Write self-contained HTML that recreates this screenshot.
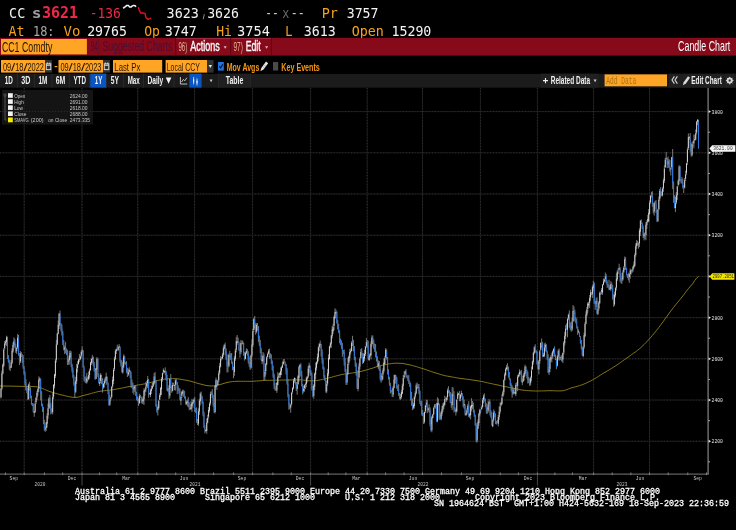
<!DOCTYPE html>
<html lang="en"><head><meta charset="utf-8"><title>CC1 Comdty - Candle Chart</title>
<style>html,body{margin:0;padding:0;background:#000;overflow:hidden}body{width:736px;height:530px}svg text{white-space:pre}</style></head>
<body>
<svg width="736" height="530" viewBox="0 0 736 530" style="display:block">
<rect x="0.00" y="0.00" width="736.00" height="530.00" fill="#000" />
<text x="9.11" y="17.60" font-family='"DejaVu Sans Mono","Liberation Mono",monospace' font-size="14.2" fill="#f4f4f4" textLength="16.18" lengthAdjust="spacingAndGlyphs" >CC</text>
<text x="31.73" y="17.60" font-family='"DejaVu Sans Mono","Liberation Mono",monospace' font-size="14.2" fill="#9c9c9c" font-weight="bold" textLength="9.74" lengthAdjust="spacingAndGlyphs" >s</text>
<text x="42.01" y="17.80" font-family='"DejaVu Sans Mono","Liberation Mono",monospace' font-size="15.6" fill="#f2264b" font-weight="bold" textLength="35.98" lengthAdjust="spacingAndGlyphs" >3621</text>
<text x="89.64" y="17.60" font-family='"DejaVu Sans Mono","Liberation Mono",monospace' font-size="14.2" fill="#ee2a40" textLength="31.22" lengthAdjust="spacingAndGlyphs" >-136</text>
<polyline points="123.2,8.4 124.2,7.4 125.5,6.6 126.8,5.4 128.4,5.6 129.6,6.9 131,7.1 132,6.1 133.6,5.4 135.2,5.8 136,6.7" fill="none" stroke="#f4f4f4" stroke-width="1.5" stroke-linejoin="round"/>
<polyline points="138.5,7.2 139,10 140,11.4 140.6,13 143,13 145,13.4 145.5,16 146,17.5 147,18.4 148,19.4 149,18.8 151,18.2" fill="none" stroke="#e6121c" stroke-width="1.4" stroke-linejoin="round"/>
<text x="166.61" y="17.60" font-family='"DejaVu Sans Mono","Liberation Mono",monospace' font-size="14.2" fill="#f4f4f4" textLength="32.28" lengthAdjust="spacingAndGlyphs" >3623</text>
<path d="M204.3 14.2 L203.2 19.2" stroke="#8a8a8a" stroke-width="1" fill="none"/>
<text x="207.13" y="17.60" font-family='"DejaVu Sans Mono","Liberation Mono",monospace' font-size="14.2" fill="#f4f4f4" textLength="31.75" lengthAdjust="spacingAndGlyphs" >3626</text>
<text x="265.26" y="17.60" font-family='"DejaVu Sans Mono","Liberation Mono",monospace' font-size="14.2" fill="#c8c8c8" textLength="13.48" lengthAdjust="spacingAndGlyphs" >--</text>
<text x="282.22" y="17.60" font-family='"DejaVu Sans Mono","Liberation Mono",monospace' font-size="14.2" fill="#6a6a6a" textLength="7.05" lengthAdjust="spacingAndGlyphs" >x</text>
<text x="290.83" y="17.60" font-family='"DejaVu Sans Mono","Liberation Mono",monospace' font-size="14.2" fill="#c8c8c8" textLength="13.93" lengthAdjust="spacingAndGlyphs" >--</text>
<text x="321.71" y="17.60" font-family='"DejaVu Sans Mono","Liberation Mono",monospace' font-size="14.2" fill="#f7a21c" textLength="16.18" lengthAdjust="spacingAndGlyphs" >Pr</text>
<text x="346.73" y="17.60" font-family='"DejaVu Sans Mono","Liberation Mono",monospace' font-size="14.2" fill="#f4f4f4" textLength="31.75" lengthAdjust="spacingAndGlyphs" >3757</text>
<text x="8.51" y="35.70" font-family='"DejaVu Sans Mono","Liberation Mono",monospace' font-size="14.2" fill="#f7a21c" textLength="16.12" lengthAdjust="spacingAndGlyphs" >At</text>
<text x="32.96" y="35.70" font-family='"DejaVu Sans Mono","Liberation Mono",monospace' font-size="14.2" fill="#a8a8a8" textLength="21.58" lengthAdjust="spacingAndGlyphs" >18:</text>
<text x="63.47" y="35.70" font-family='"DejaVu Sans Mono","Liberation Mono",monospace' font-size="14.2" fill="#f7a21c" textLength="16.85" lengthAdjust="spacingAndGlyphs" >Vo</text>
<text x="87.13" y="35.70" font-family='"DejaVu Sans Mono","Liberation Mono",monospace' font-size="14.2" fill="#f4f4f4" textLength="39.75" lengthAdjust="spacingAndGlyphs" >29765</text>
<text x="144.13" y="35.70" font-family='"DejaVu Sans Mono","Liberation Mono",monospace' font-size="14.2" fill="#f7a21c" textLength="15.73" lengthAdjust="spacingAndGlyphs" >Op</text>
<text x="164.72" y="35.70" font-family='"DejaVu Sans Mono","Liberation Mono",monospace' font-size="14.2" fill="#f4f4f4" textLength="32.17" lengthAdjust="spacingAndGlyphs" >3747</text>
<text x="216.13" y="35.70" font-family='"DejaVu Sans Mono","Liberation Mono",monospace' font-size="14.2" fill="#f7a21c" textLength="15.73" lengthAdjust="spacingAndGlyphs" >Hi</text>
<text x="237.10" y="35.70" font-family='"DejaVu Sans Mono","Liberation Mono",monospace' font-size="14.2" fill="#f4f4f4" textLength="32.80" lengthAdjust="spacingAndGlyphs" >3754</text>
<text x="285.21" y="35.70" font-family='"DejaVu Sans Mono","Liberation Mono",monospace' font-size="14.2" fill="#f7a21c" textLength="7.18" lengthAdjust="spacingAndGlyphs" >L</text>
<text x="303.87" y="35.70" font-family='"DejaVu Sans Mono","Liberation Mono",monospace' font-size="14.2" fill="#f4f4f4" textLength="32.01" lengthAdjust="spacingAndGlyphs" >3613</text>
<text x="351.72" y="35.70" font-family='"DejaVu Sans Mono","Liberation Mono",monospace' font-size="14.2" fill="#f7a21c" textLength="32.17" lengthAdjust="spacingAndGlyphs" >Open</text>
<text x="391.42" y="35.70" font-family='"DejaVu Sans Mono","Liberation Mono",monospace' font-size="14.2" fill="#f4f4f4" textLength="39.96" lengthAdjust="spacingAndGlyphs" >15290</text>
<rect x="0.00" y="37.80" width="736.00" height="17.80" fill="#870a1b" />
<rect x="1.00" y="39.00" width="85.90" height="15.40" fill="#ffa526" />
<text x="1.90" y="51.80" font-family='"Liberation Sans","DejaVu Sans",sans-serif' font-size="15" fill="#241400" textLength="50.40" lengthAdjust="spacingAndGlyphs" >CC1 Comdty</text>
<text x="91.10" y="51.40" font-family='"Liberation Sans","DejaVu Sans",sans-serif' font-size="14" fill="#4a0e34" textLength="8.80" lengthAdjust="spacingAndGlyphs" >94)</text>
<text x="102.50" y="51.40" font-family='"Liberation Sans","DejaVu Sans",sans-serif' font-size="14" fill="#4a0e34" textLength="69.80" lengthAdjust="spacingAndGlyphs" >Suggested Charts</text>
<rect x="175.10" y="38.20" width="1.00" height="17.00" fill="#5c0612" />
<rect x="230.10" y="38.20" width="1.00" height="17.00" fill="#5c0612" />
<rect x="270.90" y="38.20" width="1.00" height="17.00" fill="#5c0612" />
<text x="178.45" y="50.80" font-family='"Liberation Sans","DejaVu Sans",sans-serif' font-size="13.5" fill="#e0b090" textLength="8.85" lengthAdjust="spacingAndGlyphs" >96)</text>
<rect x="176.20" y="38.20" width="54.00" height="0.90" fill="#a23445" />
<rect x="231.20" y="38.20" width="39.80" height="0.90" fill="#a23445" />
<text x="190.30" y="50.80" font-family='"Liberation Sans","DejaVu Sans",sans-serif' font-size="14.6" fill="#ffffff" textLength="29.40" lengthAdjust="spacingAndGlyphs" stroke="#ffffff" stroke-width="0.35">Actions</text>
<path d="M223.6 46.2 h3.2 l-1.6 2.6 z" fill="#e0b0b8"/>
<text x="233.45" y="50.80" font-family='"Liberation Sans","DejaVu Sans",sans-serif' font-size="13.5" fill="#e0b090" textLength="9.35" lengthAdjust="spacingAndGlyphs" >97)</text>
<text x="245.70" y="50.80" font-family='"Liberation Sans","DejaVu Sans",sans-serif' font-size="14.6" fill="#ffffff" textLength="15.00" lengthAdjust="spacingAndGlyphs" stroke="#ffffff" stroke-width="0.35">Edit</text>
<path d="M265 46.2 h3.2 l-1.6 2.6 z" fill="#e0b0b8"/>
<text x="678.10" y="50.70" font-family='"Liberation Sans","DejaVu Sans",sans-serif' font-size="14.4" fill="#ffffff" textLength="52.20" lengthAdjust="spacingAndGlyphs" >Candle Chart</text>
<rect x="1.00" y="60.00" width="44.00" height="12.60" fill="#ffa526" />
<text x="2.90" y="70.70" font-family='"Liberation Sans","DejaVu Sans",sans-serif' font-size="11.8" fill="#241400" textLength="8.30" lengthAdjust="spacingAndGlyphs" >09</text>
<text x="11.10" y="70.70" font-family='"Liberation Sans","DejaVu Sans",sans-serif' font-size="11.8" fill="#241400" textLength="4.20" lengthAdjust="spacingAndGlyphs" >/</text>
<text x="15.20" y="70.70" font-family='"Liberation Sans","DejaVu Sans",sans-serif' font-size="11.8" fill="#241400" textLength="8.30" lengthAdjust="spacingAndGlyphs" >18</text>
<text x="23.40" y="70.70" font-family='"Liberation Sans","DejaVu Sans",sans-serif' font-size="11.8" fill="#241400" textLength="4.20" lengthAdjust="spacingAndGlyphs" >/</text>
<text x="27.50" y="70.70" font-family='"Liberation Sans","DejaVu Sans",sans-serif' font-size="11.8" fill="#241400" textLength="16.50" lengthAdjust="spacingAndGlyphs" >2022</text>
<rect x="45.00" y="60.00" width="7.00" height="12.60" fill="#303030" />
<rect x="46.3" y="63.8" width="4.5" height="5.8" fill="none" stroke="#d4d4d4" stroke-width="1"/>
<path d="M46.3 65.2 h4.5" stroke="#d4d4d4" stroke-width="1.2"/><path d="M47.3 62.4 v1.6 M49.8 62.4 v1.6" stroke="#d4d4d4" stroke-width="0.9"/>
<rect x="54.60" y="66.00" width="2.80" height="1.20" fill="#f7a21c" />
<rect x="58.50" y="60.00" width="44.50" height="12.60" fill="#ffa526" />
<text x="60.40" y="70.70" font-family='"Liberation Sans","DejaVu Sans",sans-serif' font-size="11.8" fill="#241400" textLength="8.30" lengthAdjust="spacingAndGlyphs" >09</text>
<text x="68.60" y="70.70" font-family='"Liberation Sans","DejaVu Sans",sans-serif' font-size="11.8" fill="#241400" textLength="4.20" lengthAdjust="spacingAndGlyphs" >/</text>
<text x="72.70" y="70.70" font-family='"Liberation Sans","DejaVu Sans",sans-serif' font-size="11.8" fill="#241400" textLength="8.30" lengthAdjust="spacingAndGlyphs" >18</text>
<text x="80.90" y="70.70" font-family='"Liberation Sans","DejaVu Sans",sans-serif' font-size="11.8" fill="#241400" textLength="4.20" lengthAdjust="spacingAndGlyphs" >/</text>
<text x="85.00" y="70.70" font-family='"Liberation Sans","DejaVu Sans",sans-serif' font-size="11.8" fill="#241400" textLength="16.50" lengthAdjust="spacingAndGlyphs" >2023</text>
<rect x="103.00" y="60.00" width="7.00" height="12.60" fill="#303030" />
<rect x="104.3" y="63.8" width="4.5" height="5.8" fill="none" stroke="#d4d4d4" stroke-width="1"/>
<path d="M104.3 65.2 h4.5" stroke="#d4d4d4" stroke-width="1.2"/><path d="M105.3 62.4 v1.6 M107.8 62.4 v1.6" stroke="#d4d4d4" stroke-width="0.9"/>
<rect x="113.00" y="60.00" width="49.20" height="12.60" fill="#ffa526" />
<text x="114.30" y="70.60" font-family='"Liberation Sans","DejaVu Sans",sans-serif' font-size="11.2" fill="#2b1800" textLength="26.00" lengthAdjust="spacingAndGlyphs" >Last Px</text>
<rect x="165.60" y="60.00" width="41.40" height="12.60" fill="#ffa526" />
<text x="166.70" y="70.60" font-family='"Liberation Sans","DejaVu Sans",sans-serif' font-size="11.2" fill="#2b1800" textLength="33.20" lengthAdjust="spacingAndGlyphs" >Local CCY</text>
<rect x="207.00" y="60.00" width="6.50" height="12.60" fill="#303030" />
<path d="M208.6 65 h3.4 l-1.7 3 z" fill="#e8e8e8"/>
<rect x="218.00" y="62.00" width="5.80" height="8.60" fill="#1f74e6" />
<path d="M219.2 66 l1.4 2 l2.2 -3.8" fill="none" stroke="#06142c" stroke-width="1.2"/>
<text x="226.70" y="70.60" font-family='"Liberation Sans","DejaVu Sans",sans-serif' font-size="11.8" fill="#f5981a" font-weight="bold" textLength="32.60" lengthAdjust="spacingAndGlyphs" >Mov Avgs</text>
<path d="M260.4 71.2 l0.9 -3.2 l4.7 -6.4 l2.2 1.6 l-4.7 6.4 z" fill="#e4e4e4"/><path d="M262.6 66.6 l2.2 1.6 M263.8 65 l2.2 1.6" stroke="#8a8a8a" stroke-width="0.5"/>
<rect x="273.00" y="62.00" width="5.20" height="8.50" fill="#4a4a4a" />
<text x="281.30" y="70.60" font-family='"Liberation Sans","DejaVu Sans",sans-serif' font-size="11.8" fill="#f5981a" font-weight="bold" textLength="38.50" lengthAdjust="spacingAndGlyphs" >Key Events</text>
<rect x="0.00" y="73.90" width="736.00" height="13.80" fill="#1b1b1b" />
<rect x="17.10" y="73.60" width="0.80" height="14.00" fill="#2c2c2c" />
<rect x="34.20" y="73.60" width="0.80" height="14.00" fill="#2c2c2c" />
<rect x="51.60" y="73.60" width="0.80" height="14.00" fill="#2c2c2c" />
<rect x="69.00" y="73.60" width="0.80" height="14.00" fill="#2c2c2c" />
<rect x="89.20" y="73.60" width="0.80" height="14.00" fill="#2c2c2c" />
<rect x="106.00" y="73.60" width="0.80" height="14.00" fill="#2c2c2c" />
<rect x="123.20" y="73.60" width="0.80" height="14.00" fill="#2c2c2c" />
<rect x="143.00" y="73.60" width="0.80" height="14.00" fill="#2c2c2c" />
<rect x="173.60" y="73.60" width="0.80" height="14.00" fill="#2c2c2c" />
<rect x="218.00" y="73.60" width="0.80" height="14.00" fill="#2c2c2c" />
<rect x="249.80" y="73.60" width="0.80" height="14.00" fill="#2c2c2c" />
<rect x="90.25" y="73.60" width="15.80" height="14.00" fill="#0a55c4" />
<text x="4.70" y="83.90" font-family='"Liberation Sans","DejaVu Sans",sans-serif' font-size="11" fill="#f2f2f2" font-weight="bold" textLength="8.10" lengthAdjust="spacingAndGlyphs" >1D</text>
<text x="21.20" y="83.90" font-family='"Liberation Sans","DejaVu Sans",sans-serif' font-size="11" fill="#f2f2f2" font-weight="bold" textLength="9.10" lengthAdjust="spacingAndGlyphs" >3D</text>
<text x="38.45" y="83.90" font-family='"Liberation Sans","DejaVu Sans",sans-serif' font-size="11" fill="#f2f2f2" font-weight="bold" textLength="8.85" lengthAdjust="spacingAndGlyphs" >1M</text>
<text x="55.70" y="83.90" font-family='"Liberation Sans","DejaVu Sans",sans-serif' font-size="11" fill="#f2f2f2" font-weight="bold" textLength="9.60" lengthAdjust="spacingAndGlyphs" >6M</text>
<text x="73.45" y="83.90" font-family='"Liberation Sans","DejaVu Sans",sans-serif' font-size="11" fill="#f2f2f2" font-weight="bold" textLength="12.45" lengthAdjust="spacingAndGlyphs" >YTD</text>
<text x="94.70" y="83.90" font-family='"Liberation Sans","DejaVu Sans",sans-serif' font-size="11" fill="#f2f2f2" font-weight="bold" textLength="7.60" lengthAdjust="spacingAndGlyphs" >1Y</text>
<text x="110.70" y="83.90" font-family='"Liberation Sans","DejaVu Sans",sans-serif' font-size="11" fill="#f2f2f2" font-weight="bold" textLength="8.20" lengthAdjust="spacingAndGlyphs" >5Y</text>
<text x="127.70" y="83.90" font-family='"Liberation Sans","DejaVu Sans",sans-serif' font-size="11" fill="#f2f2f2" font-weight="bold" textLength="12.10" lengthAdjust="spacingAndGlyphs" >Max</text>
<text x="147.45" y="83.90" font-family='"Liberation Sans","DejaVu Sans",sans-serif' font-size="11" fill="#f2f2f2" font-weight="bold" textLength="15.85" lengthAdjust="spacingAndGlyphs" >Daily</text>
<path d="M165.8 77.6 h5.6 l-2.8 6.2 z" fill="#f2f2f2"/>
<path d="M180.4 77 v7 h6.8" fill="none" stroke="#d0d0d0" stroke-width="0.9"/><path d="M181.6 82 l1.8 -2.6 l1.4 1.4 l2 -3" fill="none" stroke="#d0d0d0" stroke-width="0.9"/>
<rect x="189.40" y="73.60" width="12.20" height="14.00" fill="#0a55c4" />
<path d="M193.6 77 v7.4 M197 78.4 v7" stroke="#e8e8e8" stroke-width="0.8"/><rect x="193" y="79.2" width="1.2" height="3" fill="#e8e8e8"/><rect x="196.4" y="80.6" width="1.2" height="2.8" fill="#e8e8e8"/>
<path d="M209.6 79.6 h3 l-1.5 2.6 z" fill="#d0d0d0"/>
<rect x="218.80" y="73.60" width="31.20" height="14.00" fill="#202020" />
<text x="225.70" y="83.90" font-family='"Liberation Sans","DejaVu Sans",sans-serif' font-size="11" fill="#f2f2f2" font-weight="bold" textLength="17.60" lengthAdjust="spacingAndGlyphs" >Table</text>
<rect x="540.60" y="73.60" width="58.00" height="14.00" fill="#202020" />
<path d="M543 80.6 h5 M545.5 78 v5.2" stroke="#f2f2f2" stroke-width="1.1"/>
<text x="550.70" y="83.90" font-family='"Liberation Sans","DejaVu Sans",sans-serif' font-size="11" fill="#f2f2f2" font-weight="bold" textLength="39.35" lengthAdjust="spacingAndGlyphs" >Related Data</text>
<path d="M593.6 79.6 h3 l-1.5 2.6 z" fill="#d0d0d0"/>
<rect x="604.60" y="74.40" width="62.40" height="11.90" fill="#ffa526" />
<text x="606.30" y="84.00" font-family='"Liberation Mono","DejaVu Sans Mono",monospace' font-size="11" fill="#a5721a" textLength="30.00" lengthAdjust="spacingAndGlyphs" >Add Data</text>
<rect x="669.00" y="73.60" width="12.00" height="14.00" fill="#202020" />
<rect x="681.60" y="73.60" width="42.00" height="14.00" fill="#202020" />
<rect x="724.40" y="73.60" width="11.00" height="14.00" fill="#202020" />
<path d="M674.4 76.4 l-2.4 3.6 l2.4 3.6 M677.4 76.4 l-2.4 3.6 l2.4 3.6" fill="none" stroke="#dcdcdc" stroke-width="1.1"/>
<path d="M682.8 85.2 l0.9 -3 l4.3 -5.9 l2 1.5 l-4.3 5.9 z" fill="#dcdcdc"/>
<text x="691.20" y="83.90" font-family='"Liberation Sans","DejaVu Sans",sans-serif' font-size="11" fill="#f2f2f2" font-weight="bold" textLength="30.60" lengthAdjust="spacingAndGlyphs" >Edit Chart</text>
<circle cx="729.7" cy="80.6" r="2.3" fill="none" stroke="#d8d8d8" stroke-width="1.5"/><path d="M729.7 76.8 v7.6 M725.9 80.6 h7.6 M727 77.9 l5.4 5.4 M732.4 77.9 l-5.4 5.4" stroke="#d8d8d8" stroke-width="0.9"/><circle cx="729.7" cy="80.6" r="1" fill="#202020"/>
<rect x="2.00" y="90.00" width="91.00" height="34.60" fill="#141414" />
<line x1="0" y1="441.25" x2="708.1" y2="441.25" stroke="#181818" stroke-width="1"/>
<line x1="0" y1="441.25" x2="708.1" y2="441.25" stroke="#303030" stroke-width="1" stroke-dasharray="1 1.9"/>
<line x1="0" y1="400.04" x2="708.1" y2="400.04" stroke="#181818" stroke-width="1"/>
<line x1="0" y1="400.04" x2="708.1" y2="400.04" stroke="#303030" stroke-width="1" stroke-dasharray="1 1.9"/>
<line x1="0" y1="358.84" x2="708.1" y2="358.84" stroke="#181818" stroke-width="1"/>
<line x1="0" y1="358.84" x2="708.1" y2="358.84" stroke="#303030" stroke-width="1" stroke-dasharray="1 1.9"/>
<line x1="0" y1="317.63" x2="708.1" y2="317.63" stroke="#181818" stroke-width="1"/>
<line x1="0" y1="317.63" x2="708.1" y2="317.63" stroke="#303030" stroke-width="1" stroke-dasharray="1 1.9"/>
<line x1="0" y1="276.42" x2="708.1" y2="276.42" stroke="#181818" stroke-width="1"/>
<line x1="0" y1="276.42" x2="708.1" y2="276.42" stroke="#303030" stroke-width="1" stroke-dasharray="1 1.9"/>
<line x1="0" y1="235.22" x2="708.1" y2="235.22" stroke="#181818" stroke-width="1"/>
<line x1="0" y1="235.22" x2="708.1" y2="235.22" stroke="#303030" stroke-width="1" stroke-dasharray="1 1.9"/>
<line x1="0" y1="194.01" x2="708.1" y2="194.01" stroke="#181818" stroke-width="1"/>
<line x1="0" y1="194.01" x2="708.1" y2="194.01" stroke="#303030" stroke-width="1" stroke-dasharray="1 1.9"/>
<line x1="0" y1="152.81" x2="708.1" y2="152.81" stroke="#181818" stroke-width="1"/>
<line x1="0" y1="152.81" x2="708.1" y2="152.81" stroke="#303030" stroke-width="1" stroke-dasharray="1 1.9"/>
<line x1="0" y1="111.60" x2="708.1" y2="111.60" stroke="#181818" stroke-width="1"/>
<line x1="0" y1="111.60" x2="708.1" y2="111.60" stroke="#303030" stroke-width="1" stroke-dasharray="1 1.9"/>
<line x1="24.2" y1="88" x2="24.2" y2="474.2" stroke="#181818" stroke-width="1"/>
<line x1="24.2" y1="88" x2="24.2" y2="474.2" stroke="#303030" stroke-width="1" stroke-dasharray="1 1.9"/>
<line x1="82" y1="88" x2="82" y2="474.2" stroke="#181818" stroke-width="1"/>
<line x1="82" y1="88" x2="82" y2="474.2" stroke="#303030" stroke-width="1" stroke-dasharray="1 1.9"/>
<line x1="137.75" y1="88" x2="137.75" y2="474.2" stroke="#181818" stroke-width="1"/>
<line x1="137.75" y1="88" x2="137.75" y2="474.2" stroke="#303030" stroke-width="1" stroke-dasharray="1 1.9"/>
<line x1="194.6" y1="88" x2="194.6" y2="474.2" stroke="#181818" stroke-width="1"/>
<line x1="194.6" y1="88" x2="194.6" y2="474.2" stroke="#303030" stroke-width="1" stroke-dasharray="1 1.9"/>
<line x1="252.6" y1="88" x2="252.6" y2="474.2" stroke="#181818" stroke-width="1"/>
<line x1="252.6" y1="88" x2="252.6" y2="474.2" stroke="#303030" stroke-width="1" stroke-dasharray="1 1.9"/>
<line x1="310.6" y1="88" x2="310.6" y2="474.2" stroke="#181818" stroke-width="1"/>
<line x1="310.6" y1="88" x2="310.6" y2="474.2" stroke="#303030" stroke-width="1" stroke-dasharray="1 1.9"/>
<line x1="367.2" y1="88" x2="367.2" y2="474.2" stroke="#181818" stroke-width="1"/>
<line x1="367.2" y1="88" x2="367.2" y2="474.2" stroke="#303030" stroke-width="1" stroke-dasharray="1 1.9"/>
<line x1="422.5" y1="88" x2="422.5" y2="474.2" stroke="#181818" stroke-width="1"/>
<line x1="422.5" y1="88" x2="422.5" y2="474.2" stroke="#303030" stroke-width="1" stroke-dasharray="1 1.9"/>
<line x1="480.4" y1="88" x2="480.4" y2="474.2" stroke="#181818" stroke-width="1"/>
<line x1="480.4" y1="88" x2="480.4" y2="474.2" stroke="#303030" stroke-width="1" stroke-dasharray="1 1.9"/>
<line x1="537.4" y1="88" x2="537.4" y2="474.2" stroke="#181818" stroke-width="1"/>
<line x1="537.4" y1="88" x2="537.4" y2="474.2" stroke="#303030" stroke-width="1" stroke-dasharray="1 1.9"/>
<line x1="593.6" y1="88" x2="593.6" y2="474.2" stroke="#181818" stroke-width="1"/>
<line x1="593.6" y1="88" x2="593.6" y2="474.2" stroke="#303030" stroke-width="1" stroke-dasharray="1 1.9"/>
<line x1="649.5" y1="88" x2="649.5" y2="474.2" stroke="#181818" stroke-width="1"/>
<line x1="649.5" y1="88" x2="649.5" y2="474.2" stroke="#303030" stroke-width="1" stroke-dasharray="1 1.9"/>
<path d="M5 96 v24 h1.6" fill="none" stroke="#6a6a6a" stroke-width="0.7"/><rect x="4" y="94" width="2" height="2" fill="none" stroke="#7a7a7a" stroke-width="0.5"/>
<rect x="8.00" y="93.20" width="4.80" height="4.60" fill="#f4f4f4" />
<text x="14.20" y="97.80" font-family='"Liberation Sans","DejaVu Sans",sans-serif' font-size="5.6" fill="#c8c8c8" textLength="11.00" lengthAdjust="spacingAndGlyphs" >Open</text>
<text x="69.70" y="97.80" font-family='"Liberation Sans","DejaVu Sans",sans-serif' font-size="5.6" fill="#c8c8c8" textLength="17.80" lengthAdjust="spacingAndGlyphs" >2624.00</text>
<rect x="8.00" y="99.27" width="4.80" height="4.60" fill="#f4f4f4" />
<text x="14.20" y="103.87" font-family='"Liberation Sans","DejaVu Sans",sans-serif' font-size="5.6" fill="#c8c8c8" textLength="9.60" lengthAdjust="spacingAndGlyphs" >High</text>
<text x="69.70" y="103.87" font-family='"Liberation Sans","DejaVu Sans",sans-serif' font-size="5.6" fill="#c8c8c8" textLength="17.80" lengthAdjust="spacingAndGlyphs" >2691.00</text>
<rect x="8.00" y="105.34" width="4.80" height="4.60" fill="#f4f4f4" />
<text x="14.20" y="109.94" font-family='"Liberation Sans","DejaVu Sans",sans-serif' font-size="5.6" fill="#c8c8c8" textLength="8.80" lengthAdjust="spacingAndGlyphs" >Low</text>
<text x="69.70" y="109.94" font-family='"Liberation Sans","DejaVu Sans",sans-serif' font-size="5.6" fill="#c8c8c8" textLength="17.80" lengthAdjust="spacingAndGlyphs" >2618.00</text>
<rect x="8.00" y="111.41" width="4.80" height="4.60" fill="#f4f4f4" />
<text x="14.20" y="116.01" font-family='"Liberation Sans","DejaVu Sans",sans-serif' font-size="5.6" fill="#c8c8c8" textLength="12.20" lengthAdjust="spacingAndGlyphs" >Close</text>
<text x="69.70" y="116.01" font-family='"Liberation Sans","DejaVu Sans",sans-serif' font-size="5.6" fill="#c8c8c8" textLength="17.80" lengthAdjust="spacingAndGlyphs" >2688.00</text>
<rect x="8.00" y="117.48" width="4.80" height="4.80" fill="#f6ee00" />
<text x="14.20" y="122.08" font-family='"Liberation Sans","DejaVu Sans",sans-serif' font-size="5.6" fill="#c8c8c8" textLength="14.40" lengthAdjust="spacingAndGlyphs" >SMAVG</text>
<text x="30.80" y="122.08" font-family='"Liberation Sans","DejaVu Sans",sans-serif' font-size="5.6" fill="#c8c8c8" textLength="12.80" lengthAdjust="spacingAndGlyphs" >(200)</text>
<text x="48.20" y="122.08" font-family='"Liberation Sans","DejaVu Sans",sans-serif' font-size="5.6" fill="#c8c8c8" textLength="19.00" lengthAdjust="spacingAndGlyphs" >on Close</text>
<text x="69.70" y="122.08" font-family='"Liberation Sans","DejaVu Sans",sans-serif' font-size="5.6" fill="#c8c8c8" textLength="20.40" lengthAdjust="spacingAndGlyphs" >2473.335</text>
<polyline points="0.0,386.0 2.0,386.0 4.0,386.0 6.0,386.1 8.0,386.1 10.0,386.1 12.0,386.2 14.0,386.2 16.0,386.2 18.0,386.3 20.0,386.3 22.0,386.4 24.0,386.4 26.0,386.4 28.0,386.4 30.0,386.4 32.0,386.5 34.0,386.6 36.0,386.7 38.0,387.0 40.2,387.6 42.4,388.5 44.6,389.4 46.8,390.4 49.0,391.3 51.2,392.0 53.3,392.6 55.5,393.3 57.7,393.9 59.8,394.5 62.0,395.0 64.2,395.5 66.3,396.1 68.5,396.5 70.7,397.0 72.8,397.3 75.0,397.4 77.0,397.3 79.0,396.9 81.0,396.2 83.0,395.5 85.1,395.1 87.2,394.5 89.4,394.0 91.5,393.4 93.6,392.8 95.8,392.2 97.9,391.7 100.0,391.3 102.2,390.9 104.4,390.7 106.6,390.5 108.8,390.3 111.0,390.0 113.1,389.7 115.2,389.3 117.4,388.9 119.5,388.5 121.6,388.1 123.8,387.7 125.9,387.2 128.0,386.8 130.1,386.4 132.2,386.1 134.3,385.7 136.4,385.3 138.6,384.9 140.7,384.6 142.8,384.2 144.9,383.8 147.0,383.4 149.1,382.9 151.3,382.3 153.4,381.6 155.6,381.0 157.7,380.5 159.9,380.0 162.0,379.6 164.2,379.2 166.3,379.0 168.5,378.8 170.7,378.7 172.8,378.6 175.0,378.7 177.0,378.8 179.0,379.0 181.0,379.3 183.0,379.7 185.0,380.0 187.0,380.4 189.0,380.8 191.0,381.3 193.0,381.9 195.0,382.5 197.0,383.1 199.0,383.7 201.0,384.2 203.0,384.7 205.0,385.2 207.0,385.6 209.0,385.8 211.0,386.0 213.3,385.9 215.7,385.6 218.0,385.0 220.0,384.5 222.0,384.0 224.0,383.3 226.0,382.8 228.0,382.3 230.2,381.9 232.5,381.6 234.8,381.4 237.0,381.3 239.1,381.3 241.3,381.3 243.4,381.3 245.6,381.3 247.7,381.3 249.9,381.3 252.0,381.3 254.2,381.2 256.3,381.0 258.5,380.9 260.7,380.7 262.8,380.5 265.0,380.4 267.1,380.3 269.2,380.3 271.2,380.3 273.3,380.2 275.4,380.2 277.5,380.2 279.6,380.1 281.7,380.1 283.8,380.1 285.8,380.0 287.9,380.0 290.0,380.0 292.2,379.9 294.5,379.8 296.8,379.8 299.0,379.8 301.1,379.9 303.3,380.1 305.4,380.3 307.6,380.6 309.7,380.7 311.9,380.8 314.0,380.8 316.2,380.6 318.3,380.3 320.5,379.8 322.7,379.4 324.8,378.8 327.0,378.3 329.1,377.8 331.3,377.3 333.4,376.7 335.6,376.1 337.7,375.5 339.9,375.0 342.0,374.5 344.2,374.1 346.3,373.8 348.5,373.5 350.7,373.2 352.8,372.9 355.0,372.6 357.0,372.2 359.0,371.8 361.0,371.4 363.0,370.9 365.0,370.4 367.0,369.8 369.0,369.2 371.0,368.6 373.0,368.0 375.0,367.3 377.0,366.6 379.0,366.0 381.0,365.5 383.1,365.0 385.3,364.6 387.4,364.2 389.6,363.8 391.7,363.5 393.9,363.3 396.0,363.2 398.0,363.2 400.0,363.3 402.0,363.4 404.0,363.7 406.0,364.1 408.0,364.5 410.1,364.9 412.3,365.5 414.4,366.1 416.6,366.7 418.7,367.4 420.9,368.1 423.0,368.7 425.2,369.4 427.3,370.2 429.5,370.9 431.7,371.7 433.8,372.4 436.0,373.0 438.4,373.8 440.8,374.5 443.1,375.2 445.5,375.8 447.8,376.2 450.0,376.6 452.2,377.0 454.5,377.4 456.8,377.8 459.0,378.2 461.0,378.5 463.0,378.7 465.0,379.0 467.0,379.2 469.0,379.5 471.0,379.8 473.0,380.1 475.0,380.4 477.0,380.7 479.0,381.0 481.1,381.4 483.2,381.8 485.3,382.3 487.4,382.8 489.6,383.3 491.7,383.7 493.8,384.2 495.9,384.6 498.0,385.0 500.2,385.6 502.4,386.1 504.6,386.5 506.8,386.9 509.0,387.4 511.2,387.8 513.3,388.3 515.5,388.8 517.7,389.2 519.8,389.7 522.0,390.0 524.2,390.3 526.5,390.5 528.8,390.7 531.0,390.8 533.2,390.9 535.5,391.0 537.6,391.0 539.6,391.0 541.7,390.9 543.8,390.9 545.9,390.8 547.9,390.7 550.0,390.7 552.2,390.7 554.4,390.8 556.6,390.9 558.8,390.9 561.0,390.9 563.2,390.7 565.8,390.0 568.4,389.0 571.0,388.0 573.1,387.4 575.3,386.9 577.4,386.3 579.6,385.6 581.7,384.9 583.8,384.1 585.9,383.2 588.0,382.2 590.1,381.2 592.2,380.1 594.3,378.9 596.4,377.7 598.6,376.3 600.7,374.9 602.8,373.5 605.0,372.3 607.2,371.0 609.4,369.7 611.6,368.4 613.8,367.0 616.0,365.6 618.2,364.1 620.4,362.6 622.6,361.0 624.8,359.4 627.0,357.9 629.2,356.4 631.3,354.8 633.4,353.3 635.6,351.8 637.7,350.2 639.8,348.5 641.9,346.6 644.0,344.6 646.1,342.5 648.2,340.2 650.3,337.9 652.4,335.4 654.5,332.9 656.7,330.2 658.8,327.5 660.9,324.7 663.0,321.9 665.1,318.9 667.2,316.0 669.3,313.0 671.4,310.2 673.5,307.5 675.6,304.8 677.8,302.2 679.9,299.6 682.0,297.0 684.1,294.3 686.2,291.4 688.4,288.7 690.5,286.1 692.6,283.8 694.6,280.6 696.7,278.1 698.7,276.4" fill="none" stroke="#8a7a16" stroke-width="0.95" stroke-linejoin="round"/>
<path d="M1.00 387.8V398.5M1.92 370.6V389.9M2.85 363.5V374.4M3.77 348.1V367.0M4.69 341.0V349.7M5.61 340.0V345.2M6.54 335.7V346.0M7.46 336.7V359.0M8.38 355.1V362.7M9.30 359.5V369.8M10.23 365.6V371.0M11.15 360.0V368.1M12.07 348.0V364.3M12.99 342.5V352.7M13.92 337.4V346.7M14.84 338.8V348.2M15.76 343.6V352.8M16.68 347.3V354.0M17.61 334.0V348.9M18.53 334.9V355.7M19.45 353.1V365.0M20.38 351.0V363.1M21.30 352.0V357.1M22.22 353.8V363.0M23.14 355.2V368.7M24.07 365.9V374.9M24.99 371.3V385.5M25.91 379.2V390.5M26.83 386.1V393.4M27.76 387.6V400.1M28.68 383.5V399.7M29.60 381.9V390.5M30.52 387.4V398.3M31.45 395.6V404.8M32.37 403.0V406.1M33.29 403.4V412.4M34.21 411.1V416.8M35.14 401.3V412.9M36.06 397.2V404.3M36.98 390.9V400.0M37.90 388.1V395.5M38.83 376.4V391.9M39.75 377.3V381.8M40.67 378.7V400.5M41.60 391.2V406.4M42.52 403.7V411.9M43.44 407.0V424.2M44.36 419.7V430.8M45.29 426.5V431.8M46.21 422.0V430.9M47.13 413.2V427.5M48.05 403.5V418.9M48.98 397.2V409.1M49.90 394.8V408.7M50.82 402.8V414.4M51.74 408.3V413.5M52.67 392.8V414.4M53.59 384.3V399.0M54.51 373.9V388.4M55.43 358.8V378.1M56.36 339.9V362.5M57.28 332.8V345.1M58.20 320.6V334.3M59.12 312.9V329.0M60.05 310.6V324.6M60.97 323.1V331.4M61.89 324.5V335.6M62.82 331.0V345.2M63.74 340.0V350.4M64.66 345.5V354.1M65.58 341.8V353.2M66.51 348.4V354.9M67.43 349.8V365.1M68.35 358.4V364.8M69.27 350.9V364.6M70.20 350.5V359.4M71.12 351.2V367.2M72.04 363.7V372.4M72.96 367.4V378.3M73.89 374.9V385.7M74.81 382.6V397.4M75.73 376.7V393.1M76.65 363.9V383.9M77.58 361.2V372.4M78.50 358.7V364.8M79.42 353.9V362.2M80.35 355.4V360.3M81.27 350.2V358.4M82.19 346.4V354.1M83.11 350.1V367.7M84.04 365.7V381.1M84.96 376.9V382.4M85.88 376.3V383.3M86.80 372.9V383.6M87.73 376.5V381.5M88.65 371.4V379.9M89.57 368.5V378.4M90.49 361.8V371.0M91.42 358.5V365.0M92.34 354.9V363.4M93.26 356.6V366.0M94.18 361.9V371.6M95.11 368.1V379.8M96.03 368.2V379.2M96.95 357.0V369.7M97.88 358.3V377.0M98.80 373.5V383.5M99.72 378.0V386.0M100.64 373.1V382.9M101.57 374.7V384.3M102.49 378.1V392.6M103.41 383.1V388.8M104.33 378.6V387.6M105.26 377.1V382.9M106.18 372.6V385.1M107.10 376.4V383.6M108.02 382.4V394.2M108.95 391.0V405.9M109.87 394.9V405.7M110.79 397.1V400.8M111.71 385.9V398.0M112.64 376.5V387.7M113.56 367.9V384.1M114.48 356.6V371.1M115.40 349.4V360.2M116.33 348.5V354.0M117.25 344.7V350.4M118.17 346.7V351.1M119.10 344.1V347.7M120.02 346.5V362.5M120.94 359.6V366.5M121.86 360.3V372.6M122.79 362.2V373.8M123.71 354.3V368.0M124.63 355.7V363.7M125.55 362.2V364.8M126.48 361.1V373.0M127.40 367.8V377.0M128.32 368.7V375.9M129.24 367.3V372.6M130.17 370.4V378.1M131.09 371.6V387.7M132.01 379.6V388.2M132.93 382.6V393.1M133.86 386.0V394.7M134.78 385.3V392.0M135.70 385.2V396.0M136.62 391.8V400.3M137.55 396.5V401.3M138.47 398.4V406.0M139.39 393.8V404.1M140.32 394.7V397.9M141.24 396.5V403.0M142.16 397.7V404.0M143.08 396.2V403.9M144.01 388.1V405.0M144.93 389.0V395.7M145.85 381.9V392.2M146.77 380.8V387.3M147.70 375.9V388.2M148.62 378.9V397.7M149.54 392.6V394.7M150.46 389.0V397.1M151.39 385.6V394.0M152.31 382.7V389.3M153.23 382.0V386.9M154.15 373.1V384.7M155.08 372.0V383.0M156.00 380.1V406.8M156.92 404.1V412.8M157.85 406.7V415.5M158.77 399.8V409.6M159.69 393.2V400.0M160.61 386.9V396.8M161.54 377.1V395.0M162.46 372.5V381.6M163.38 368.3V373.7M164.30 370.2V373.1M165.23 367.3V375.2M166.15 370.9V380.5M167.07 374.7V390.9M167.99 387.8V392.0M168.92 385.2V398.9M169.84 378.1V398.0M170.76 374.0V388.0M171.68 385.7V392.8M172.61 382.4V391.5M173.53 382.8V385.9M174.45 384.7V390.1M175.38 379.2V390.7M176.30 378.7V384.6M177.22 381.8V394.2M178.14 385.4V391.1M179.07 388.2V394.1M179.99 388.5V400.4M180.91 396.2V405.2M181.83 390.9V397.9M182.76 389.6V394.3M183.68 389.8V396.8M184.60 391.0V398.7M185.52 396.4V404.5M186.45 400.3V405.0M187.37 399.4V406.4M188.29 397.1V407.4M189.21 402.1V410.3M190.14 407.5V410.0M191.06 401.4V409.6M191.98 398.8V411.8M192.90 399.9V407.8M193.83 398.5V403.4M194.75 396.9V412.0M195.67 408.2V412.9M196.60 407.3V422.8M197.52 419.0V425.0M198.44 408.4V425.9M199.36 398.7V414.8M200.29 392.3V405.5M201.21 391.5V399.4M202.13 395.9V404.1M203.05 401.4V416.3M203.98 411.6V428.1M204.90 425.2V433.4M205.82 429.7V431.4M206.74 418.4V433.8M207.67 414.8V423.4M208.59 407.0V418.7M209.51 402.2V412.6M210.43 391.7V405.5M211.36 391.3V395.0M212.28 389.0V398.3M213.20 394.6V406.7M214.12 403.4V412.9M215.05 385.0V413.5M215.97 377.6V387.5M216.89 379.5V389.8M217.82 380.2V386.0M218.74 370.6V382.3M219.66 362.9V374.6M220.58 356.1V367.6M221.51 356.9V360.4M222.43 352.9V359.3M223.35 346.3V356.8M224.27 344.1V349.2M225.20 342.6V355.1M226.12 348.4V359.8M227.04 354.3V372.5M227.96 362.3V372.3M228.89 353.4V367.2M229.81 350.8V357.2M230.73 353.7V360.2M231.65 353.0V363.8M232.58 361.7V370.2M233.50 366.7V378.3M234.42 355.9V375.8M235.35 348.7V360.8M236.27 336.8V352.4M237.19 335.0V344.8M238.11 337.6V342.9M239.04 341.7V350.9M239.96 348.6V357.7M240.88 339.9V354.3M241.80 341.1V343.8M242.73 340.3V344.6M243.65 342.4V355.8M244.57 352.1V360.6M245.49 351.6V359.3M246.42 348.3V354.1M247.34 349.0V355.8M248.26 351.2V363.4M249.18 356.5V366.6M250.11 362.9V370.0M251.03 354.7V368.8M251.95 339.3V357.1M252.88 328.7V347.1M253.80 317.8V332.1M254.72 316.0V328.5M255.64 323.2V334.7M256.57 323.2V333.2M257.49 323.1V330.5M258.41 326.0V341.9M259.33 335.6V345.9M260.26 339.9V353.2M261.18 347.9V360.6M262.10 355.5V364.3M263.02 352.0V362.7M263.95 353.6V380.3M264.87 369.7V380.0M265.79 363.0V374.5M266.71 356.2V365.3M267.64 352.5V357.6M268.56 349.2V354.4M269.48 348.7V358.7M270.40 353.3V358.3M271.33 354.4V364.0M272.25 360.4V370.6M273.17 365.6V377.9M274.10 373.7V389.0M275.02 382.8V390.6M275.94 387.9V390.8M276.86 382.1V392.9M277.79 372.2V385.3M278.71 373.3V378.4M279.63 372.3V378.0M280.55 367.3V377.6M281.48 366.1V375.2M282.40 361.6V368.1M283.32 359.2V364.6M284.24 359.0V362.9M285.17 361.6V365.9M286.09 364.0V374.5M287.01 367.9V384.7M287.93 379.2V397.4M288.86 393.9V409.8M289.78 403.1V409.0M290.70 404.2V412.8M291.62 391.8V405.6M292.55 387.4V393.6M293.47 379.3V389.3M294.39 377.4V382.9M295.32 378.0V384.6M296.24 382.0V391.0M297.16 381.9V394.8M298.08 374.9V384.8M299.01 365.7V381.7M299.93 363.9V368.5M300.85 363.2V376.6M301.77 371.0V386.5M302.70 384.0V394.4M303.62 385.7V392.5M304.54 384.4V391.7M305.46 382.6V389.1M306.39 376.5V387.2M307.31 376.0V382.4M308.23 366.0V378.2M309.15 362.6V372.9M310.08 365.5V375.7M311.00 370.2V375.4M311.92 372.6V390.6M312.85 386.0V397.3M313.77 383.9V398.7M314.69 372.5V390.2M315.61 362.6V379.4M316.54 361.3V370.4M317.46 353.5V364.2M318.38 346.3V361.4M319.30 342.9V351.2M320.23 340.6V348.0M321.15 343.7V356.4M322.07 349.2V363.7M322.99 358.3V369.5M323.92 366.7V378.2M324.84 375.1V381.1M325.76 379.4V392.6M326.68 380.9V393.2M327.61 368.9V385.7M328.53 354.3V376.3M329.45 345.8V359.7M330.38 342.1V348.3M331.30 334.7V347.9M332.22 325.9V338.4M333.14 323.9V333.8M334.07 315.6V330.3M334.99 308.3V319.2M335.91 309.4V313.8M336.83 311.3V323.5M337.76 320.2V329.5M338.68 324.0V333.1M339.60 330.2V343.3M340.52 338.6V345.1M341.45 340.3V348.8M342.37 342.8V356.8M343.29 350.0V354.1M344.21 349.5V365.6M345.14 358.1V372.2M346.06 369.1V384.9M346.98 372.8V385.0M347.90 357.6V374.8M348.83 355.4V364.9M349.75 349.0V361.1M350.67 348.3V354.5M351.60 341.1V351.4M352.52 335.8V346.0M353.44 339.8V351.4M354.36 346.0V360.2M355.29 356.6V366.9M356.21 362.6V375.7M357.13 370.3V389.0M358.05 377.5V391.3M358.98 363.3V378.8M359.90 357.2V369.5M360.82 349.0V358.8M361.74 348.1V355.1M362.67 353.2V364.1M363.59 353.2V363.1M364.51 349.7V361.2M365.43 346.0V356.0M366.36 338.2V347.8M367.28 340.2V348.3M368.20 340.7V359.7M369.12 355.4V360.9M370.05 353.1V357.2M370.97 341.4V359.3M371.89 335.4V346.5M372.82 335.4V344.1M373.74 339.5V348.8M374.66 343.6V351.9M375.58 344.0V357.4M376.51 351.5V361.5M377.43 356.3V367.2M378.35 360.4V369.1M379.27 361.1V371.0M380.20 366.0V380.5M381.12 372.8V382.8M382.04 373.7V380.9M382.96 368.3V379.3M383.89 358.5V372.6M384.81 356.3V364.9M385.73 348.0V358.1M386.65 349.4V359.6M387.58 357.0V374.5M388.50 369.3V379.6M389.42 376.7V385.6M390.35 382.8V393.5M391.27 390.1V392.4M392.19 388.1V397.0M393.11 386.0V397.2M394.04 374.7V388.6M394.96 374.5V383.8M395.88 375.2V383.4M396.80 377.0V388.7M397.73 385.2V391.0M398.65 384.2V395.9M399.57 393.0V399.4M400.49 394.0V399.9M401.42 389.8V398.9M402.34 383.7V394.3M403.26 375.0V390.0M404.18 371.3V378.9M405.11 370.4V374.8M406.03 369.1V377.5M406.95 375.7V378.3M407.88 374.8V381.1M408.80 375.3V384.0M409.72 380.8V387.0M410.64 383.1V400.5M411.57 392.0V405.8M412.49 398.6V410.1M413.41 402.9V409.4M414.33 395.7V408.5M415.26 391.3V398.8M416.18 383.3V394.5M417.10 382.5V389.4M418.02 384.0V388.3M418.95 384.0V394.1M419.87 390.5V403.9M420.79 401.2V406.0M421.71 400.6V415.4M422.64 410.1V416.1M423.56 412.8V424.0M424.48 411.5V423.5M425.40 405.0V413.1M426.33 399.7V407.3M427.25 399.8V413.2M428.17 407.8V411.7M429.10 404.4V412.6M430.02 407.4V426.3M430.94 419.3V431.5M431.86 415.8V432.3M432.79 413.9V418.4M433.71 406.6V414.9M434.63 404.0V408.5M435.55 404.0V408.5M436.48 402.8V421.9M437.40 397.3V422.4M438.32 398.5V405.3M439.24 403.6V419.8M440.17 414.7V419.6M441.09 411.1V420.3M442.01 405.8V415.9M442.93 403.2V411.9M443.86 401.9V408.8M444.78 395.7V405.5M445.70 397.3V400.6M446.62 396.4V401.9M447.55 388.4V399.9M448.47 386.2V393.2M449.39 390.3V396.5M450.32 392.0V403.0M451.24 401.8V407.8M452.16 387.1V410.1M453.08 387.4V395.9M454.01 391.2V412.4M454.93 407.2V411.6M455.85 408.7V415.5M456.77 398.9V412.6M457.70 391.7V399.4M458.62 393.0V395.4M459.54 390.9V401.1M460.46 394.0V401.3M461.39 390.6V396.7M462.31 393.1V400.3M463.23 396.3V407.4M464.15 399.7V408.6M465.08 404.4V415.4M466.00 412.6V416.0M466.92 408.4V415.0M467.85 403.8V411.8M468.77 401.1V417.1M469.69 412.9V418.0M470.61 405.5V419.5M471.54 398.2V411.3M472.46 401.0V409.0M473.38 402.6V412.6M474.30 409.6V416.8M475.23 414.6V425.9M476.15 422.9V442.1M477.07 425.5V442.7M477.99 419.6V429.1M478.92 412.7V425.7M479.84 408.7V416.4M480.76 409.2V412.7M481.68 405.4V409.7M482.61 398.0V407.9M483.53 394.6V403.2M484.45 393.4V401.6M485.38 398.5V407.2M486.30 403.2V413.6M487.22 407.2V414.0M488.14 401.1V412.7M489.07 399.0V406.0M489.99 400.6V415.4M490.91 410.1V417.9M491.83 411.9V425.8M492.76 419.0V427.2M493.68 409.4V421.6M494.60 410.8V417.2M495.52 413.4V424.1M496.45 420.9V424.5M497.37 420.0V423.2M498.29 415.0V426.3M499.21 406.4V419.9M500.14 402.4V413.7M501.06 401.5V406.4M501.98 394.3V404.7M502.90 390.6V397.1M503.83 379.3V394.8M504.75 372.6V380.8M505.67 367.6V376.1M506.60 364.8V370.3M507.52 363.2V370.5M508.44 366.6V377.6M509.36 372.0V379.8M510.29 378.4V386.1M511.21 383.2V391.4M512.13 385.3V397.7M513.05 387.3V394.7M513.98 387.9V394.3M514.90 391.9V394.2M515.82 383.1V396.2M516.74 382.4V386.4M517.67 374.8V391.3M518.59 373.4V377.4M519.51 369.3V376.4M520.43 370.8V374.7M521.36 369.9V381.9M522.28 378.6V385.2M523.20 374.7V382.1M524.12 371.3V380.6M525.05 364.7V376.2M525.97 366.0V371.4M526.89 369.6V378.5M527.82 371.5V383.5M528.74 377.0V383.2M529.66 378.4V386.0M530.58 376.5V385.4M531.51 366.5V381.3M532.43 360.6V369.8M533.35 351.7V364.5M534.27 346.1V354.4M535.20 344.2V352.1M536.12 350.0V353.5M537.04 351.2V364.7M537.96 360.8V369.3M538.89 360.0V374.4M539.81 350.1V363.7M540.73 342.4V351.1M541.65 338.5V347.5M542.58 342.0V357.3M543.50 352.8V357.1M544.42 343.4V357.2M545.35 342.7V351.2M546.27 344.0V352.3M547.19 350.7V360.2M548.11 354.2V373.1M549.04 366.7V375.1M549.96 357.3V372.0M550.88 354.9V361.5M551.80 352.7V362.4M552.73 350.5V359.0M553.65 348.0V353.6M554.57 346.3V356.8M555.49 354.5V360.1M556.42 358.7V369.2M557.34 355.2V366.5M558.26 349.4V359.6M559.18 348.6V360.7M560.11 357.0V359.8M561.03 355.5V360.2M561.95 354.7V361.7M562.88 352.3V363.0M563.80 341.1V354.5M564.72 331.8V345.6M565.64 325.1V339.0M566.57 323.4V329.7M567.49 317.9V337.3M568.41 313.5V320.1M569.33 310.4V327.7M570.26 322.2V330.1M571.18 326.1V331.8M572.10 317.8V331.0M573.02 305.1V322.0M573.95 306.4V313.9M574.87 309.6V321.5M575.79 317.0V323.3M576.71 318.5V328.5M577.64 326.3V334.8M578.56 329.4V333.3M579.48 331.8V337.0M580.40 336.1V343.7M581.33 339.9V349.6M582.25 346.6V355.6M583.17 346.2V357.4M584.10 332.7V349.1M585.02 322.1V337.2M585.94 311.3V324.5M586.86 307.1V316.5M587.79 302.2V312.8M588.71 301.7V306.5M589.63 295.0V308.1M590.55 289.7V300.8M591.48 292.1V295.2M592.40 285.7V297.9M593.32 280.7V291.4M594.24 282.3V303.9M595.17 301.2V310.0M596.09 298.0V307.2M597.01 297.2V314.3M597.93 308.3V315.1M598.86 300.8V310.4M599.78 291.5V304.0M600.70 291.6V294.7M601.62 288.0V294.5M602.55 284.1V294.8M603.47 278.5V285.2M604.39 278.7V282.6M605.32 272.5V281.7M606.24 274.2V283.6M607.16 280.3V287.8M608.08 284.2V287.4M609.01 279.7V290.2M609.93 285.1V290.0M610.85 281.2V291.1M611.77 282.5V288.9M612.70 285.0V299.7M613.62 294.4V306.8M614.54 291.6V305.9M615.46 287.2V297.4M616.39 273.2V290.5M617.31 270.3V281.0M618.23 268.1V274.1M619.15 263.7V269.8M620.08 267.1V281.8M621.00 272.9V283.4M621.92 277.6V283.8M622.85 270.1V280.8M623.77 266.2V273.0M624.69 256.5V270.0M625.61 257.2V269.9M626.54 267.7V275.5M627.46 274.3V278.2M628.38 272.7V280.4M629.30 273.4V282.9M630.23 268.5V278.7M631.15 269.5V274.5M632.07 269.3V273.0M632.99 265.7V271.9M633.92 261.3V268.5M634.84 253.2V266.8M635.76 243.3V256.7M636.68 240.0V248.9M637.61 241.0V245.6M638.53 242.5V248.5M639.45 228.2V247.0M640.38 220.1V235.8M641.30 219.3V223.9M642.22 222.6V229.0M643.14 225.7V238.0M644.07 232.6V240.4M644.99 232.6V239.0M645.91 222.2V240.2M646.83 220.3V228.8M647.76 214.9V223.1M648.68 209.1V221.7M649.60 200.4V214.7M650.52 195.3V203.7M651.45 191.9V197.5M652.37 191.2V206.7M653.29 202.9V213.5M654.21 201.8V215.6M655.14 200.8V204.1M656.06 200.2V213.1M656.98 209.5V222.1M657.90 208.7V222.1M658.83 196.4V210.4M659.75 188.9V201.0M660.67 187.1V197.3M661.60 191.4V196.0M662.52 187.4V196.4M663.44 178.4V191.8M664.36 165.3V183.0M665.29 157.7V167.9M666.21 151.9V159.9M667.13 157.8V168.0M668.05 156.5V168.1M668.98 159.0V167.8M669.90 160.0V171.7M670.82 167.6V175.5M671.74 156.8V168.4M672.67 149.0V189.1M673.59 181.5V202.9M674.51 195.3V208.3M675.43 196.9V212.1M676.36 192.0V204.2M677.28 185.8V200.1M678.20 179.3V186.5M679.12 165.1V184.5M680.05 165.8V181.3M680.97 179.1V183.4M681.89 176.9V183.6M682.82 178.8V188.6M683.74 185.0V193.0M684.66 177.9V188.4M685.58 170.6V180.9M686.51 162.8V175.1M687.43 147.4V164.9M688.35 133.4V150.0M689.27 136.2V139.8M690.20 133.0V151.7M691.12 143.5V156.6M692.04 142.0V156.5M692.96 140.8V146.5M693.89 134.3V148.4M694.81 135.2V140.7M695.73 129.6V140.2M696.65 120.9V134.6M697.58 119.2V125.1M698.50 119.8V148.5" stroke="#949494" stroke-width="0.8" fill="none"/>
<path d="M1.00 388.7V397.4M1.92 373.4V388.6M2.85 364.8V373.6M3.77 349.6V365.5M4.69 343.4V348.2M5.61 341.5V343.4M6.54 337.5V341.8M10.23 366.8V367.4M11.15 362.4V367.6M12.07 350.7V362.8M12.99 345.0V351.4M13.92 341.4V344.9M16.68 347.9V351.2M17.61 337.7V347.4M20.38 353.6V361.4M28.68 384.7V399.0M34.21 411.4V412.8M35.14 403.7V411.8M36.06 397.7V402.1M36.98 392.8V397.4M37.90 389.0V392.4M38.83 379.7V388.9M39.75 378.6V379.7M45.29 428.3V429.2M46.21 422.4V428.0M47.13 415.6V423.7M48.05 408.3V415.4M48.98 398.5V407.8M52.67 397.3V412.2M53.59 384.7V396.8M54.51 374.5V385.7M55.43 360.6V375.8M56.36 344.6V359.8M57.28 333.6V344.6M58.20 325.0V333.8M59.12 313.7V325.8M64.66 347.4V349.4M68.35 360.7V361.6M69.27 355.6V360.4M70.20 353.0V357.5M75.73 380.8V391.7M76.65 368.6V381.2M77.58 364.6V368.0M78.50 359.7V364.0M79.42 359.1V359.5M80.35 356.3V359.2M81.27 352.0V355.7M82.19 350.5V351.8M86.80 378.4V382.4M88.65 375.1V379.4M89.57 370.6V375.0M90.49 362.6V370.0M91.42 359.0V362.9M92.34 357.7V359.3M96.03 368.6V378.8M96.95 358.8V369.2M99.72 382.0V383.9M100.64 375.1V380.9M103.41 383.9V387.3M104.33 381.0V383.8M105.26 379.9V380.6M106.18 376.6V380.5M109.87 399.3V404.7M110.79 397.6V398.8M111.71 386.8V396.9M112.64 379.9V386.4M113.56 369.9V380.9M114.48 358.7V368.8M115.40 351.1V358.8M116.33 349.4V351.2M118.17 347.3V349.9M119.10 346.2V347.7M122.79 365.8V372.4M123.71 356.5V366.5M128.32 372.1V374.5M129.24 370.0V371.8M133.86 387.6V389.4M134.78 386.5V388.0M139.39 396.0V403.1M142.16 400.0V400.5M143.08 399.0V401.4M144.01 390.7V399.3M144.93 389.7V391.4M145.85 386.8V389.5M146.77 383.6V386.4M147.70 379.7V383.0M149.54 393.0V393.5M150.46 390.5V395.2M151.39 388.3V391.0M152.31 386.0V388.5M153.23 382.7V386.3M154.15 376.6V383.5M157.85 407.2V410.0M158.77 400.8V407.9M159.69 395.1V399.6M160.61 388.0V395.0M161.54 379.0V389.4M162.46 373.2V379.0M163.38 370.1V371.6M164.30 371.1V372.2M165.23 371.5V371.8M167.99 388.8V390.4M169.84 379.0V395.6M172.61 385.0V390.7M174.45 385.2V386.0M175.38 380.4V384.8M180.91 396.9V400.7M181.83 392.2V395.8M182.76 391.3V393.2M186.45 402.2V403.6M187.37 401.5V402.7M190.14 407.9V408.4M191.06 404.4V409.1M191.98 403.1V405.8M192.90 402.0V403.6M193.83 399.7V401.9M198.44 411.3V423.6M199.36 400.7V411.5M200.29 393.8V401.3M205.82 429.7V431.3M206.74 422.6V430.9M207.67 418.0V422.7M208.59 410.0V416.6M209.51 403.7V410.7M210.43 394.1V403.4M215.05 386.1V411.9M215.97 380.2V386.9M217.82 380.7V385.0M218.74 373.3V380.3M219.66 365.9V372.8M220.58 358.7V366.4M222.43 354.6V358.5M223.35 348.3V354.7M224.27 345.1V348.8M228.89 354.9V366.2M234.42 358.2V372.0M235.35 350.5V358.8M236.27 341.2V349.8M237.19 341.5V342.8M240.88 343.1V352.3M242.73 342.9V343.6M245.49 353.1V358.8M246.42 351.1V352.9M251.03 355.2V367.7M251.95 344.6V355.1M252.88 331.2V345.0M253.80 319.1V330.0M256.57 325.1V331.6M262.10 359.4V361.3M263.02 355.8V360.8M264.87 371.9V376.7M265.79 363.8V371.2M266.71 357.3V364.3M267.64 353.9V357.0M268.56 351.1V353.6M276.86 382.9V390.5M277.79 376.9V384.8M278.71 375.7V376.7M279.63 373.4V374.9M280.55 371.2V375.0M281.48 367.6V371.2M282.40 364.6V367.6M283.32 361.7V364.1M290.70 404.7V407.7M291.62 392.8V404.1M292.55 387.9V391.8M293.47 380.7V388.4M294.39 377.9V381.1M297.16 384.6V388.9M298.08 376.3V384.2M299.01 367.1V377.8M299.93 365.0V367.3M303.62 388.7V390.9M304.54 385.3V387.9M305.46 384.1V384.8M306.39 378.1V383.9M307.31 377.1V378.6M308.23 368.5V376.7M309.15 365.3V368.0M313.77 385.6V395.9M314.69 373.7V386.6M315.61 367.6V374.5M316.54 362.1V367.8M317.46 356.9V362.2M318.38 347.3V357.4M319.30 344.1V346.9M320.23 344.3V344.9M326.68 384.1V391.4M327.61 373.2V383.5M328.53 357.9V373.7M329.45 346.4V359.0M330.38 343.4V346.6M331.30 335.5V343.7M332.22 329.5V335.8M333.14 327.2V331.0M334.07 317.0V325.8M334.99 312.2V318.1M335.91 312.0V312.9M346.98 374.2V382.6M347.90 363.9V374.2M348.83 356.8V362.8M349.75 352.0V357.8M350.67 350.7V352.3M351.60 342.9V350.9M358.05 378.9V388.8M358.98 366.4V377.4M359.90 358.7V366.5M360.82 352.1V358.2M363.59 357.0V362.6M364.51 353.9V358.4M365.43 346.7V354.0M366.36 342.2V346.2M369.12 355.9V360.1M370.05 353.9V356.0M370.97 344.0V355.1M371.89 337.7V344.0M378.35 363.2V366.4M382.04 375.6V379.8M382.96 370.6V374.5M383.89 362.6V370.9M384.81 358.2V363.9M385.73 349.8V357.4M393.11 387.9V394.6M394.04 379.5V388.0M394.96 375.1V379.6M400.49 397.3V398.2M401.42 392.1V397.0M402.34 385.6V393.8M403.26 378.2V385.8M404.18 375.4V377.3M405.11 371.5V374.3M413.41 404.8V407.6M414.33 397.1V406.0M415.26 393.1V396.6M416.18 385.4V393.3M418.02 387.1V388.0M424.48 412.1V421.8M425.40 405.5V411.3M426.33 402.8V404.6M428.17 408.4V409.9M431.86 417.2V430.1M432.79 414.5V417.9M433.71 408.1V414.4M434.63 405.7V406.7M437.40 403.4V421.2M438.32 403.4V404.4M441.09 412.7V419.1M442.01 409.4V413.6M442.93 405.7V409.7M443.86 403.5V406.3M444.78 399.2V404.7M446.62 398.2V399.8M447.55 390.4V397.2M452.16 393.6V405.1M455.85 410.2V411.4M456.77 400.0V411.3M457.70 393.9V398.8M458.62 393.5V394.6M460.46 395.0V398.5M461.39 393.1V394.5M464.15 404.0V405.2M466.00 413.2V414.9M466.92 410.4V413.3M467.85 405.8V409.6M469.69 413.9V416.1M470.61 406.6V415.0M471.54 405.0V407.5M472.46 405.2V406.1M477.07 428.5V440.5M477.99 422.1V428.6M478.92 413.9V423.1M479.84 409.9V414.3M481.68 407.5V409.1M482.61 400.2V407.0M483.53 396.6V399.7M488.14 404.4V410.6M489.07 402.1V404.0M492.76 420.0V426.4M493.68 412.6V419.9M498.29 417.0V423.8M499.21 411.6V417.0M500.14 406.4V411.6M501.06 403.0V405.4M501.98 397.7V403.7M502.90 392.3V396.2M503.83 380.1V392.2M504.75 374.5V379.8M505.67 369.2V375.0M506.60 367.4V369.2M513.05 389.8V393.5M514.90 392.1V392.9M515.82 385.1V394.1M517.67 376.6V385.7M518.59 374.9V376.6M519.51 372.1V374.3M522.28 381.4V382.6M523.20 375.8V381.1M524.12 373.1V377.2M525.05 366.7V373.8M530.58 378.0V383.3M531.51 370.5V377.7M532.43 361.6V369.3M533.35 352.8V362.0M534.27 347.4V352.9M538.89 361.6V369.3M539.81 351.3V361.2M540.73 343.0V349.8M543.50 355.0V356.1M544.42 347.7V355.6M545.35 345.0V347.5M549.04 369.2V372.4M549.96 358.5V368.8M550.88 357.0V359.6M552.73 351.5V356.5M553.65 349.0V351.7M557.34 356.5V365.7M558.26 350.8V356.6M560.11 357.2V357.9M561.95 359.7V360.5M562.88 353.0V359.4M563.80 342.7V352.5M564.72 335.9V343.1M565.64 328.6V336.1M567.49 319.2V329.7M568.41 314.9V318.5M572.10 321.5V329.4M573.02 311.0V321.3M578.56 331.4V332.1M583.17 347.7V356.0M584.10 335.3V347.2M585.02 324.0V336.2M585.94 314.7V323.8M586.86 309.6V315.0M587.79 303.5V308.8M588.71 303.5V305.1M589.63 298.1V302.8M590.55 292.6V297.6M592.40 287.2V294.2M593.32 284.3V287.9M596.09 300.9V304.2M597.93 309.1V313.7M598.86 302.5V308.5M599.78 292.9V303.0M601.62 289.9V291.6M602.55 284.7V292.6M603.47 281.5V284.7M604.39 279.6V281.5M605.32 276.4V278.8M609.93 287.1V289.4M610.85 284.1V288.7M614.54 294.6V304.2M615.46 288.1V295.4M616.39 278.7V287.7M617.31 271.7V279.3M619.15 268.3V269.8M622.85 272.4V279.6M623.77 267.8V271.9M624.69 259.3V266.6M629.30 274.3V276.9M630.23 270.5V274.2M631.15 271.1V271.4M632.07 269.9V270.7M632.99 267.0V269.7M633.92 264.7V267.3M634.84 255.0V265.5M635.76 246.2V255.0M636.68 243.1V246.2M638.53 243.8V244.3M639.45 230.4V243.4M640.38 220.8V231.6M644.07 233.5V236.3M645.91 224.8V235.1M646.83 222.3V225.1M647.76 219.0V222.0M648.68 212.7V221.3M649.60 202.7V213.8M650.52 195.7V202.4M654.21 203.2V211.6M657.90 210.1V220.9M658.83 199.6V209.2M659.75 190.9V199.2M662.52 188.8V195.4M663.44 180.5V188.5M664.36 168.7V180.9M665.29 159.7V167.2M666.21 158.4V159.0M668.05 161.1V164.2M670.82 168.3V169.5M671.74 157.3V167.1M675.43 203.2V208.0M676.36 194.8V202.5M677.28 186.5V195.1M678.20 180.8V184.9M679.12 166.7V180.8M684.66 180.1V187.7M685.58 174.5V178.8M686.51 163.4V172.9M687.43 149.5V162.1M688.35 137.2V148.1M689.27 137.1V138.1M692.04 144.4V155.1M693.89 140.6V143.4M694.81 139.0V140.3M695.73 133.3V139.5M696.65 121.8V132.6M697.58 119.7V121.8" stroke="#e4e4e4" stroke-width="0.85" fill="none"/>
<path d="M7.46 338.5V357.0M8.38 356.9V361.8M9.30 361.0V366.7M14.84 340.8V345.7M15.76 345.4V351.4M18.53 337.2V354.5M19.45 353.9V362.2M21.30 354.3V355.6M22.22 355.5V356.9M23.14 356.3V366.8M24.07 367.7V373.6M24.99 373.6V383.0M25.91 382.6V389.9M26.83 389.6V390.7M27.76 389.7V398.3M29.60 385.2V389.5M30.52 389.5V396.6M31.45 396.9V403.6M32.37 403.8V405.3M33.29 404.8V411.9M40.67 379.9V393.5M41.60 392.6V403.2M42.52 404.4V409.5M43.44 409.4V422.3M44.36 423.1V428.7M49.90 397.7V405.0M50.82 404.8V411.7M51.74 411.8V412.5M60.05 314.6V322.9M60.97 323.5V329.2M61.89 328.3V333.8M62.82 333.3V343.1M63.74 343.0V349.2M65.58 347.1V350.9M66.51 350.5V352.9M67.43 353.2V363.2M71.12 352.9V364.8M72.04 364.8V370.2M72.96 370.0V377.1M73.89 377.1V383.5M74.81 384.4V391.3M83.11 350.9V366.7M84.04 367.4V377.2M84.96 378.1V380.2M85.88 380.3V382.5M87.73 379.3V380.1M93.26 357.1V363.8M94.18 363.9V370.6M95.11 370.1V378.9M97.88 358.8V375.6M98.80 375.8V382.8M101.57 377.1V381.1M102.49 380.9V388.2M107.10 377.2V383.1M108.02 383.0V391.4M108.95 392.2V404.9M117.25 346.9V349.4M120.02 346.9V360.4M120.94 361.3V364.7M121.86 365.2V372.1M124.63 357.0V361.5M125.55 362.7V364.1M126.48 363.5V371.7M127.40 371.5V375.0M130.17 371.3V375.4M131.09 375.6V384.7M132.01 384.5V385.3M132.93 385.9V389.3M135.70 385.8V393.1M136.62 392.7V399.2M137.55 399.2V400.2M138.47 401.3V402.6M140.32 396.6V396.9M141.24 397.3V400.9M148.62 380.6V393.2M155.08 376.0V381.0M156.00 380.7V406.0M156.92 406.0V411.6M166.15 372.0V378.8M167.07 378.3V389.9M168.92 388.8V394.1M170.76 377.7V387.3M171.68 387.4V389.4M173.53 383.8V385.3M176.30 380.0V382.3M177.22 382.4V388.9M178.14 387.4V390.4M179.07 390.7V393.1M179.99 394.0V399.4M183.68 390.7V396.1M184.60 395.9V397.7M185.52 397.7V403.6M188.29 400.5V404.0M189.21 405.0V407.3M194.75 401.7V409.1M195.67 410.2V412.0M196.60 410.1V420.6M197.52 420.2V423.0M201.21 393.7V397.7M202.13 397.4V403.0M203.05 402.2V414.0M203.98 413.8V426.9M204.90 427.7V429.6M211.36 392.1V393.5M212.28 392.8V397.9M213.20 397.5V404.5M214.12 404.1V411.0M216.89 380.6V384.7M221.51 358.9V359.9M225.20 344.9V350.9M226.12 350.9V359.4M227.04 359.3V366.3M227.96 364.9V366.1M229.81 353.1V356.0M230.73 355.5V358.7M231.65 358.3V363.4M232.58 364.0V369.8M233.50 369.9V373.5M238.11 340.9V342.4M239.04 343.4V350.0M239.96 349.8V354.0M241.80 342.7V343.3M243.65 343.4V354.6M244.57 355.0V357.7M247.34 349.9V353.2M248.26 353.3V360.8M249.18 361.7V364.4M250.11 363.8V367.8M254.72 319.3V325.7M255.64 325.6V331.3M257.49 325.5V329.6M258.41 328.4V338.6M259.33 339.6V344.0M260.26 343.9V348.4M261.18 350.0V360.0M263.95 355.1V376.9M269.48 351.4V355.8M270.40 355.5V356.7M271.33 355.4V363.1M272.25 361.8V369.8M273.17 370.2V376.5M274.10 375.5V385.8M275.02 386.2V388.0M275.94 388.7V389.8M284.24 361.1V361.9M285.17 363.1V365.5M286.09 365.2V370.8M287.01 369.7V382.5M287.93 383.6V394.6M288.86 394.7V404.7M289.78 404.7V407.5M295.32 379.1V383.1M296.24 383.6V388.3M300.85 365.8V375.7M301.77 374.5V386.1M302.70 386.2V392.6M310.08 366.3V373.1M311.00 373.3V374.3M311.92 375.5V389.2M312.85 389.8V396.0M321.15 345.0V350.4M322.07 351.3V359.6M322.99 359.7V368.7M323.92 368.1V376.4M324.84 376.8V380.1M325.76 380.1V390.5M336.83 312.5V323.1M337.76 323.2V329.0M338.68 328.6V332.6M339.60 332.8V339.2M340.52 339.8V344.5M341.45 343.6V347.9M342.37 346.2V350.9M343.29 350.9V353.3M344.21 352.2V361.5M345.14 362.2V371.2M346.06 372.0V383.2M352.52 341.9V342.5M353.44 341.2V348.2M354.36 347.7V357.7M355.29 357.3V366.0M356.21 364.2V373.5M357.13 372.3V388.0M361.74 351.0V354.4M362.67 354.6V362.5M367.28 340.7V347.0M368.20 346.1V358.1M372.82 338.2V340.6M373.74 341.5V346.7M374.66 347.6V350.2M375.58 349.9V354.8M376.51 353.4V358.5M377.43 358.3V365.6M379.27 362.1V368.9M380.20 368.9V378.8M381.12 377.2V381.3M386.65 351.1V356.8M387.58 357.6V372.5M388.50 371.7V377.4M389.42 377.6V383.9M390.35 385.0V390.9M391.27 391.0V391.4M392.19 391.1V393.7M395.88 376.0V379.0M396.80 378.8V388.0M397.73 388.3V389.8M398.65 389.1V393.9M399.57 394.3V398.4M406.03 372.6V375.8M406.95 376.3V376.7M407.88 376.7V379.2M408.80 379.7V381.3M409.72 381.6V385.4M410.64 385.1V398.7M411.57 397.3V404.1M412.49 404.2V407.1M417.10 384.8V387.4M418.95 387.1V391.2M419.87 391.0V401.9M420.79 402.7V404.9M421.71 403.0V412.5M422.64 412.8V415.6M423.56 413.7V421.6M427.25 402.3V410.3M429.10 406.9V408.6M430.02 409.4V424.0M430.94 424.2V429.6M435.55 404.9V407.3M436.48 405.9V421.4M439.24 404.2V417.7M440.17 416.7V418.9M445.70 398.2V399.8M448.47 390.3V391.1M449.39 391.5V394.3M450.32 393.4V402.5M451.24 403.1V404.3M453.08 393.6V394.8M454.01 395.2V408.6M454.93 407.8V410.6M459.54 392.9V399.8M462.31 394.3V397.6M463.23 397.4V405.8M465.08 405.7V413.3M468.77 404.8V416.4M473.38 405.4V410.7M474.30 411.2V416.3M475.23 415.8V424.7M476.15 423.8V439.7M480.76 409.2V410.8M484.45 397.0V400.4M485.38 400.4V406.1M486.30 406.6V409.2M487.22 409.6V412.3M489.99 402.4V412.2M490.91 412.9V416.5M491.83 416.3V424.7M494.60 411.4V416.8M495.52 415.8V422.6M496.45 422.2V423.4M497.37 421.7V422.7M507.52 369.1V370.0M508.44 368.9V376.1M509.36 376.8V378.7M510.29 379.0V385.5M511.21 384.9V389.5M512.13 389.0V392.7M513.98 389.9V392.2M516.74 383.4V384.8M520.43 372.6V373.4M521.36 373.1V381.3M525.97 367.0V369.5M526.89 370.4V375.9M527.82 375.2V380.2M528.74 380.7V382.2M529.66 381.6V383.9M535.20 346.5V350.0M536.12 350.5V353.0M537.04 351.8V363.6M537.96 362.8V368.4M541.65 342.7V345.6M542.58 344.1V355.2M546.27 345.7V351.6M547.19 351.9V358.8M548.11 358.0V372.4M551.80 356.1V357.4M554.57 348.2V355.2M555.49 355.3V358.9M556.42 359.1V367.9M559.18 350.9V357.9M561.03 357.5V359.0M566.57 327.0V328.9M569.33 315.8V323.8M570.26 323.0V327.6M571.18 327.9V329.2M573.95 312.2V313.3M574.87 312.2V320.1M575.79 319.9V321.7M576.71 321.3V326.3M577.64 327.0V332.5M579.48 332.6V336.2M580.40 337.3V343.0M581.33 342.3V348.1M582.25 347.9V354.5M591.48 292.8V294.5M594.24 283.6V302.6M595.17 301.8V304.6M597.01 300.5V313.1M600.70 292.4V293.0M606.24 276.1V282.7M607.16 282.4V285.3M608.08 285.2V286.4M609.01 285.2V288.8M611.77 283.6V288.0M612.70 288.0V298.0M613.62 298.9V303.9M618.23 270.3V270.7M620.08 268.8V277.0M621.00 276.3V280.7M621.92 279.7V281.1M625.61 260.0V268.5M626.54 268.1V274.6M627.46 275.2V276.3M628.38 276.6V277.3M637.61 243.4V244.2M641.30 222.1V223.2M642.22 224.1V228.1M643.14 228.2V234.5M644.99 233.6V235.1M651.45 195.1V196.6M652.37 196.2V203.7M653.29 203.3V211.4M655.14 202.7V203.7M656.06 203.5V209.3M656.98 210.7V220.1M660.67 189.3V192.9M661.60 192.8V195.4M667.13 158.3V164.4M668.98 160.9V167.3M669.90 167.1V169.3M672.67 157.2V183.0M673.59 183.3V197.3M674.51 198.0V207.3M680.05 166.6V180.1M680.97 180.0V180.8M681.89 180.4V182.1M682.82 182.4V187.6M683.74 187.3V188.0M690.20 138.5V146.5M691.12 145.6V153.9M692.96 143.2V143.8M698.50 122.0V148.5" stroke="#1f78ee" stroke-width="0.9" fill="none"/>
<path d="M708.1 88 V474.2" fill="none" stroke="#7c7c7c" stroke-width="1.3"/>
<path d="M708.75 474.09999999999997 H0" fill="none" stroke="#7a7a7a" stroke-width="1"/>
<path d="M708.6 439.85 L711 441.25 L708.6 442.65 z" fill="#e8e8e8"/>
<text x="711.60" y="443.25" font-family='"Liberation Mono","DejaVu Sans Mono",monospace' font-size="6" fill="#e6e6e6" textLength="11.30" lengthAdjust="spacingAndGlyphs" >2200</text>
<path d="M708.6 398.64 L711 400.04 L708.6 401.44 z" fill="#e8e8e8"/>
<text x="711.60" y="402.04" font-family='"Liberation Mono","DejaVu Sans Mono",monospace' font-size="6" fill="#e6e6e6" textLength="11.30" lengthAdjust="spacingAndGlyphs" >2400</text>
<path d="M708.6 357.44 L711 358.84 L708.6 360.24 z" fill="#e8e8e8"/>
<text x="711.60" y="360.84" font-family='"Liberation Mono","DejaVu Sans Mono",monospace' font-size="6" fill="#e6e6e6" textLength="11.30" lengthAdjust="spacingAndGlyphs" >2600</text>
<path d="M708.6 316.23 L711 317.63 L708.6 319.03 z" fill="#e8e8e8"/>
<text x="711.60" y="319.63" font-family='"Liberation Mono","DejaVu Sans Mono",monospace' font-size="6" fill="#e6e6e6" textLength="11.30" lengthAdjust="spacingAndGlyphs" >2800</text>
<path d="M708.6 275.02 L711 276.42 L708.6 277.82 z" fill="#e8e8e8"/>
<text x="711.60" y="278.42" font-family='"Liberation Mono","DejaVu Sans Mono",monospace' font-size="6" fill="#e6e6e6" textLength="11.30" lengthAdjust="spacingAndGlyphs" >3000</text>
<path d="M708.6 233.82 L711 235.22 L708.6 236.62 z" fill="#e8e8e8"/>
<text x="711.60" y="237.22" font-family='"Liberation Mono","DejaVu Sans Mono",monospace' font-size="6" fill="#e6e6e6" textLength="11.30" lengthAdjust="spacingAndGlyphs" >3200</text>
<path d="M708.6 192.61 L711 194.01 L708.6 195.41 z" fill="#e8e8e8"/>
<text x="711.60" y="196.01" font-family='"Liberation Mono","DejaVu Sans Mono",monospace' font-size="6" fill="#e6e6e6" textLength="11.30" lengthAdjust="spacingAndGlyphs" >3400</text>
<path d="M708.6 151.41 L711 152.81 L708.6 154.21 z" fill="#e8e8e8"/>
<text x="711.60" y="154.81" font-family='"Liberation Mono","DejaVu Sans Mono",monospace' font-size="6" fill="#e6e6e6" textLength="11.30" lengthAdjust="spacingAndGlyphs" >3600</text>
<path d="M708.6 110.20 L711 111.60 L708.6 113.00 z" fill="#e8e8e8"/>
<text x="711.60" y="113.60" font-family='"Liberation Mono","DejaVu Sans Mono",monospace' font-size="6" fill="#e6e6e6" textLength="11.30" lengthAdjust="spacingAndGlyphs" >3800</text>
<rect x="708.40" y="461.35" width="1.40" height="1.00" fill="#c8c8c8" />
<rect x="708.40" y="420.14" width="1.40" height="1.00" fill="#c8c8c8" />
<rect x="708.40" y="378.94" width="1.40" height="1.00" fill="#c8c8c8" />
<rect x="708.40" y="337.73" width="1.40" height="1.00" fill="#c8c8c8" />
<rect x="708.40" y="296.53" width="1.40" height="1.00" fill="#c8c8c8" />
<rect x="708.40" y="255.32" width="1.40" height="1.00" fill="#c8c8c8" />
<rect x="708.40" y="214.12" width="1.40" height="1.00" fill="#c8c8c8" />
<rect x="708.40" y="172.91" width="1.40" height="1.00" fill="#c8c8c8" />
<rect x="708.40" y="131.70" width="1.40" height="1.00" fill="#c8c8c8" />
<path d="M709.4 148.5 L712.2 145.3 H735.4 V151.7 H712.2 z" fill="#f4f4f4"/>
<text x="713.20" y="150.40" font-family='"Liberation Mono","DejaVu Sans Mono",monospace' font-size="5.4" fill="#3a3a3a" textLength="19.50" lengthAdjust="spacingAndGlyphs" >3621.00</text>
<path d="M709.6 276.5 L712.2 273.3 H734.4 V279.7 H712.2 z" fill="#f2e600"/>
<text x="712.60" y="278.40" font-family='"Liberation Mono","DejaVu Sans Mono",monospace' font-size="5.4" fill="#2a2a00" textLength="21.40" lengthAdjust="spacingAndGlyphs" >2997.2051</text>
<line x1="5.4" y1="472.5" x2="5.4" y2="475.09999999999997" stroke="#8c8c8c" stroke-width="0.9"/>
<line x1="24.2" y1="472.5" x2="24.2" y2="475.09999999999997" stroke="#8c8c8c" stroke-width="0.9"/>
<line x1="44.4" y1="472.5" x2="44.4" y2="475.09999999999997" stroke="#8c8c8c" stroke-width="0.9"/>
<line x1="62.7" y1="472.5" x2="62.7" y2="475.09999999999997" stroke="#8c8c8c" stroke-width="0.9"/>
<line x1="82.0" y1="472.5" x2="82.0" y2="475.09999999999997" stroke="#8c8c8c" stroke-width="0.9"/>
<line x1="99.4" y1="472.5" x2="99.4" y2="475.09999999999997" stroke="#8c8c8c" stroke-width="0.9"/>
<line x1="116.7" y1="472.5" x2="116.7" y2="475.09999999999997" stroke="#8c8c8c" stroke-width="0.9"/>
<line x1="137.8" y1="472.5" x2="137.8" y2="475.09999999999997" stroke="#8c8c8c" stroke-width="0.9"/>
<line x1="156.7" y1="472.5" x2="156.7" y2="475.09999999999997" stroke="#8c8c8c" stroke-width="0.9"/>
<line x1="175.7" y1="472.5" x2="175.7" y2="475.09999999999997" stroke="#8c8c8c" stroke-width="0.9"/>
<line x1="194.6" y1="472.5" x2="194.6" y2="475.09999999999997" stroke="#8c8c8c" stroke-width="0.9"/>
<line x1="213.6" y1="472.5" x2="213.6" y2="475.09999999999997" stroke="#8c8c8c" stroke-width="0.9"/>
<line x1="233.6" y1="472.5" x2="233.6" y2="475.09999999999997" stroke="#8c8c8c" stroke-width="0.9"/>
<line x1="252.6" y1="472.5" x2="252.6" y2="475.09999999999997" stroke="#8c8c8c" stroke-width="0.9"/>
<line x1="272.9" y1="472.5" x2="272.9" y2="475.09999999999997" stroke="#8c8c8c" stroke-width="0.9"/>
<line x1="291.3" y1="472.5" x2="291.3" y2="475.09999999999997" stroke="#8c8c8c" stroke-width="0.9"/>
<line x1="310.6" y1="472.5" x2="310.6" y2="475.09999999999997" stroke="#8c8c8c" stroke-width="0.9"/>
<line x1="328.2" y1="472.5" x2="328.2" y2="475.09999999999997" stroke="#8c8c8c" stroke-width="0.9"/>
<line x1="345.9" y1="472.5" x2="345.9" y2="475.09999999999997" stroke="#8c8c8c" stroke-width="0.9"/>
<line x1="367.2" y1="472.5" x2="367.2" y2="475.09999999999997" stroke="#8c8c8c" stroke-width="0.9"/>
<line x1="385.6" y1="472.5" x2="385.6" y2="475.09999999999997" stroke="#8c8c8c" stroke-width="0.9"/>
<line x1="404.1" y1="472.5" x2="404.1" y2="475.09999999999997" stroke="#8c8c8c" stroke-width="0.9"/>
<line x1="422.5" y1="472.5" x2="422.5" y2="475.09999999999997" stroke="#8c8c8c" stroke-width="0.9"/>
<line x1="441.5" y1="472.5" x2="441.5" y2="475.09999999999997" stroke="#8c8c8c" stroke-width="0.9"/>
<line x1="461.4" y1="472.5" x2="461.4" y2="475.09999999999997" stroke="#8c8c8c" stroke-width="0.9"/>
<line x1="480.4" y1="472.5" x2="480.4" y2="475.09999999999997" stroke="#8c8c8c" stroke-width="0.9"/>
<line x1="500.3" y1="472.5" x2="500.3" y2="475.09999999999997" stroke="#8c8c8c" stroke-width="0.9"/>
<line x1="518.4" y1="472.5" x2="518.4" y2="475.09999999999997" stroke="#8c8c8c" stroke-width="0.9"/>
<line x1="537.4" y1="472.5" x2="537.4" y2="475.09999999999997" stroke="#8c8c8c" stroke-width="0.9"/>
<line x1="554.9" y1="472.5" x2="554.9" y2="475.09999999999997" stroke="#8c8c8c" stroke-width="0.9"/>
<line x1="572.4" y1="472.5" x2="572.4" y2="475.09999999999997" stroke="#8c8c8c" stroke-width="0.9"/>
<line x1="593.6" y1="472.5" x2="593.6" y2="475.09999999999997" stroke="#8c8c8c" stroke-width="0.9"/>
<line x1="612.2" y1="472.5" x2="612.2" y2="475.09999999999997" stroke="#8c8c8c" stroke-width="0.9"/>
<line x1="630.9" y1="472.5" x2="630.9" y2="475.09999999999997" stroke="#8c8c8c" stroke-width="0.9"/>
<line x1="649.5" y1="472.5" x2="649.5" y2="475.09999999999997" stroke="#8c8c8c" stroke-width="0.9"/>
<line x1="668.2" y1="472.5" x2="668.2" y2="475.09999999999997" stroke="#8c8c8c" stroke-width="0.9"/>
<line x1="687.8" y1="472.5" x2="687.8" y2="475.09999999999997" stroke="#8c8c8c" stroke-width="0.9"/>
<line x1="706.5" y1="472.5" x2="706.5" y2="475.09999999999997" stroke="#8c8c8c" stroke-width="0.9"/>
<line x1="82" y1="474.2" x2="82" y2="485.6" stroke="#505050" stroke-width="0.9"/>
<line x1="310.6" y1="474.2" x2="310.6" y2="485.6" stroke="#505050" stroke-width="0.9"/>
<line x1="537.4" y1="474.2" x2="537.4" y2="485.6" stroke="#505050" stroke-width="0.9"/>
<text x="13.80" y="479.90" font-family='"Liberation Mono","DejaVu Sans Mono",monospace' font-size="5.8" fill="#c8c8c8" textLength="8.40" lengthAdjust="spacingAndGlyphs" text-anchor="middle" >Sep</text>
<text x="72.00" y="479.90" font-family='"Liberation Mono","DejaVu Sans Mono",monospace' font-size="5.8" fill="#c8c8c8" textLength="8.40" lengthAdjust="spacingAndGlyphs" text-anchor="middle" >Dec</text>
<text x="126.40" y="479.90" font-family='"Liberation Mono","DejaVu Sans Mono",monospace' font-size="5.8" fill="#c8c8c8" textLength="8.40" lengthAdjust="spacingAndGlyphs" text-anchor="middle" >Mar</text>
<text x="184.00" y="479.90" font-family='"Liberation Mono","DejaVu Sans Mono",monospace' font-size="5.8" fill="#c8c8c8" textLength="8.40" lengthAdjust="spacingAndGlyphs" text-anchor="middle" >Jun</text>
<text x="242.00" y="479.90" font-family='"Liberation Mono","DejaVu Sans Mono",monospace' font-size="5.8" fill="#c8c8c8" textLength="8.40" lengthAdjust="spacingAndGlyphs" text-anchor="middle" >Sep</text>
<text x="300.00" y="479.90" font-family='"Liberation Mono","DejaVu Sans Mono",monospace' font-size="5.8" fill="#c8c8c8" textLength="8.40" lengthAdjust="spacingAndGlyphs" text-anchor="middle" >Dec</text>
<text x="356.40" y="479.90" font-family='"Liberation Mono","DejaVu Sans Mono",monospace' font-size="5.8" fill="#c8c8c8" textLength="8.40" lengthAdjust="spacingAndGlyphs" text-anchor="middle" >Mar</text>
<text x="413.00" y="479.90" font-family='"Liberation Mono","DejaVu Sans Mono",monospace' font-size="5.8" fill="#c8c8c8" textLength="8.40" lengthAdjust="spacingAndGlyphs" text-anchor="middle" >Jun</text>
<text x="470.00" y="479.90" font-family='"Liberation Mono","DejaVu Sans Mono",monospace' font-size="5.8" fill="#c8c8c8" textLength="8.40" lengthAdjust="spacingAndGlyphs" text-anchor="middle" >Sep</text>
<text x="528.00" y="479.90" font-family='"Liberation Mono","DejaVu Sans Mono",monospace' font-size="5.8" fill="#c8c8c8" textLength="8.40" lengthAdjust="spacingAndGlyphs" text-anchor="middle" >Dec</text>
<text x="583.00" y="479.90" font-family='"Liberation Mono","DejaVu Sans Mono",monospace' font-size="5.8" fill="#c8c8c8" textLength="8.40" lengthAdjust="spacingAndGlyphs" text-anchor="middle" >Mar</text>
<text x="640.00" y="479.90" font-family='"Liberation Mono","DejaVu Sans Mono",monospace' font-size="5.8" fill="#c8c8c8" textLength="8.40" lengthAdjust="spacingAndGlyphs" text-anchor="middle" >Jun</text>
<text x="697.70" y="479.90" font-family='"Liberation Mono","DejaVu Sans Mono",monospace' font-size="5.8" fill="#c8c8c8" textLength="8.40" lengthAdjust="spacingAndGlyphs" text-anchor="middle" >Sep</text>
<text x="40.00" y="486.40" font-family='"Liberation Mono","DejaVu Sans Mono",monospace' font-size="5.8" fill="#c8c8c8" textLength="10.80" lengthAdjust="spacingAndGlyphs" text-anchor="middle" >2020</text>
<text x="195.00" y="486.40" font-family='"Liberation Mono","DejaVu Sans Mono",monospace' font-size="5.8" fill="#c8c8c8" textLength="10.80" lengthAdjust="spacingAndGlyphs" text-anchor="middle" >2021</text>
<text x="423.00" y="486.40" font-family='"Liberation Mono","DejaVu Sans Mono",monospace' font-size="5.8" fill="#c8c8c8" textLength="10.80" lengthAdjust="spacingAndGlyphs" text-anchor="middle" >2022</text>
<text x="622.00" y="486.40" font-family='"Liberation Mono","DejaVu Sans Mono",monospace' font-size="5.8" fill="#c8c8c8" textLength="10.80" lengthAdjust="spacingAndGlyphs" text-anchor="middle" >2023</text>
<text x="75.00" y="493.80" font-family='"Liberation Mono","DejaVu Sans Mono",monospace' font-size="8.6" fill="#ffffff" textLength="585.00" lengthAdjust="spacingAndGlyphs" xml:space="preserve" stroke="#ffffff" stroke-width="0.3">Australia 61 2 9777 8600 Brazil 5511 2395 9000 Europe 44 20 7330 7500 Germany 49 69 9204 1210 Hong Kong 852 2977 6000</text>
<text x="75.00" y="499.90" font-family='"Liberation Mono","DejaVu Sans Mono",monospace' font-size="8.6" fill="#ffffff" textLength="585.00" lengthAdjust="spacingAndGlyphs" xml:space="preserve" stroke="#ffffff" stroke-width="0.3">Japan 81 3 4565 8900      Singapore 65 6212 1000      U.S. 1 212 318 2000       Copyright 2023 Bloomberg Finance L.P.</text>
<text x="434.00" y="506.00" font-family='"Liberation Mono","DejaVu Sans Mono",monospace' font-size="8.6" fill="#ffffff" textLength="295.00" lengthAdjust="spacingAndGlyphs" xml:space="preserve" stroke="#ffffff" stroke-width="0.3">SN 1964624 BST  GMT+1:00 H424-5632-169 18-Sep-2023 22:36:59</text>
</svg>
</body></html>
